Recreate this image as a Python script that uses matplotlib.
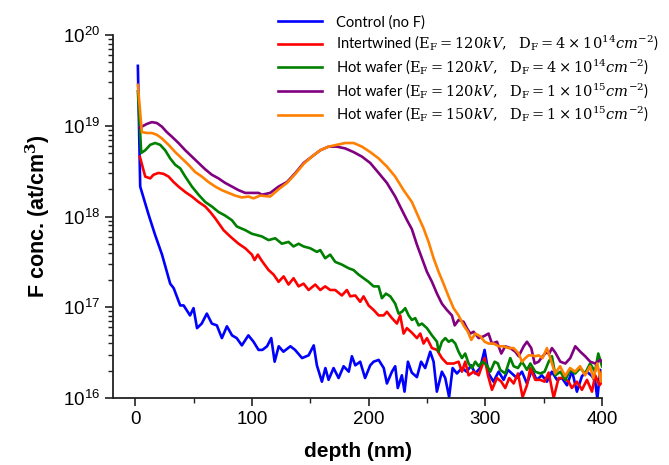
import numpy as np
import matplotlib
matplotlib.use("Agg")
import matplotlib.pyplot as plt
from matplotlib.ticker import LogLocator, MultipleLocator, NullFormatter

plt.rcParams['font.family'] = ['Liberation Sans', 'DejaVu Sans']
plt.rcParams['mathtext.fontset'] = 'dejavuserif'

# ---- data: depth (nm) and log10 of F concentration (at/cm^3) ----
control_x = [2.3, 4.3, 11.5, 17, 23, 30, 33, 38.6, 41.5, 47, 50, 53, 57, 61.4, 65.7, 70, 74.3, 78.6, 83, 87,
             91.4, 97, 101.4, 105.7, 109, 113, 116.6, 119.5, 123, 127, 133, 137, 143, 148.6, 153, 155.7, 160,
             163, 165.7, 170, 174.3, 178.6, 183, 185.7, 188.6, 192.8, 197, 201.4, 204.3, 208.6, 213, 215.7, 220,
             222.8, 225, 228.5, 230.8, 233.7, 237, 241.4, 245, 248.5, 252.8, 255.7, 258.5, 262.8, 265.7, 269,
             272, 275.7, 280, 284, 288, 291.3, 295.6, 299.4, 302.8, 307, 311.4, 315.7, 319.4, 322.8, 327, 331.4,
             335.7, 340, 344, 348.5, 352.8, 357, 361.4, 365.7, 370, 374.3, 378.5, 382.8, 387, 391.5, 394.2, 396,
             398.5, 400]
control_log = [19.66, 18.33, 18.02, 17.80, 17.58, 17.26, 17.21, 17.02, 17.02, 16.91, 16.99, 16.77, 16.82, 16.93,
               16.82, 16.80, 16.66, 16.79, 16.69, 16.66, 16.58, 16.69, 16.62, 16.53, 16.53, 16.57, 16.66, 16.40,
               16.57, 16.51, 16.57, 16.53, 16.44, 16.47, 16.58, 16.36, 16.18, 16.33, 16.20, 16.33, 16.22, 16.35,
               16.29, 16.46, 16.36, 16.40, 16.22, 16.36, 16.40, 16.42, 16.33, 16.16, 16.29, 16.35, 16.11, 16.25,
               16.07, 16.40, 16.28, 16.23, 16.40, 16.33, 16.51, 16.40, 16.07, 16.29, 16.22, 16.01, 16.33, 16.27,
               16.33, 16.29, 16.36, 16.27, 16.33, 16.53, 16.27, 16.18, 16.29, 16.20, 16.31, 16.27, 16.22, 16.29,
               16.16, 16.31, 16.20, 16.25, 16.18, 16.29, 16.20, 16.22, 16.14, 16.30, 16.07, 16.24, 16.29, 16.24,
               16.18, 15.99, 16.31, 16.18]

intertwined_x = [4, 8.6, 12.9, 15.7, 20, 24.3, 28.6, 32.9, 37.1, 42.9, 48.6, 54.3, 60, 64.3, 68.6, 75.7, 81.4,
                 88.6, 94.3, 100, 102.3, 105.1, 108.6, 114.3, 118.6, 122.9, 127.2, 131.4, 135.7, 140, 144.3, 148.6,
                 154.3, 158.6, 162.8, 167.1, 171.4, 177.1, 181.4, 184.3, 188.6, 192.8, 195.7, 200, 204.3, 208.6,
                 212.9, 215.7, 220, 224.3, 227.1, 230, 232.8, 237.1, 241.4, 244.3, 247.1, 250, 254.3, 258.6, 262.8,
                 267.1, 272.8, 277.1, 280, 282.8, 285.7, 290, 294.3, 297.1, 299.4, 302.3, 305.7, 310, 313.7, 317.1,
                 320.5, 324.3, 328, 332, 335.7, 338.6, 342.8, 347.1, 350.8, 354.3, 358.6, 362.8, 367.1, 371.4,
                 374.2, 378.5, 382.8, 387.1, 391.4, 394.2, 397.9, 400]
intertwined_log = [18.66, 18.44, 18.42, 18.46, 18.48, 18.47, 18.44, 18.38, 18.33, 18.27, 18.22, 18.16, 18.11,
                   18.05, 17.98, 17.85, 17.78, 17.70, 17.65, 17.58, 17.52, 17.58, 17.51, 17.41, 17.36, 17.28, 17.34,
                   17.25, 17.32, 17.23, 17.26, 17.19, 17.25, 17.19, 17.23, 17.19, 17.19, 17.13, 17.19, 17.12, 17.13,
                   17.06, 17.12, 17.02, 16.97, 16.91, 16.91, 16.95, 16.88, 16.82, 16.91, 16.71, 16.77, 16.72, 16.66,
                   16.71, 16.60, 16.66, 16.55, 16.53, 16.44, 16.38, 16.38, 16.40, 16.29, 16.40, 16.25, 16.29, 16.25,
                   16.35, 16.44, 16.25, 16.09, 16.22, 16.18, 16.11, 16.22, 16.16, 16.27, 16.01, 16.14, 16.33, 16.20,
                   16.20, 16.18, 16.28, 16.00, 16.22, 16.22, 16.18, 16.11, 16.18, 16.09, 16.20, 16.07, 16.25, 16.14,
                   16.18]

hot120_4e14_x = [2.3, 5.2, 8.6, 12.9, 17.1, 21.4, 25.7, 30, 34.3, 38.6, 42.9, 48.6, 54.3, 60, 65.7, 71.4, 77.1,
                 82.8, 87.1, 94.3, 100, 108.6, 114.3, 120, 125.7, 131.4, 135.7, 140, 144.3, 150, 155.7, 158.6,
                 162.8, 167.1, 171.4, 177.1, 182.9, 187.1, 191.4, 195.7, 200, 204.3, 208.6, 211.4, 214.9, 218.6,
                 222.8, 225.7, 228.6, 231.4, 234.3, 237.1, 240, 242.9, 245.7, 250, 254.3, 258.6, 260, 262.8, 265.7,
                 268.6, 271.4, 274.3, 277.1, 280, 282.8, 285.7, 288.6, 291.4, 294.3, 297.7, 301.4, 304.3, 308,
                 310.8, 312.8, 317.1, 321.4, 324.3, 328, 331.4, 335.7, 338.6, 342.8, 347.1, 350.8, 354.3, 357.1,
                 360, 364.3, 368.6, 372.8, 377, 381.4, 385.5, 389.8, 394, 396.8, 400]
hot120_4e14_log = [19.38, 18.70, 18.73, 18.79, 18.81, 18.79, 18.73, 18.64, 18.57, 18.53, 18.44, 18.33, 18.24,
                   18.16, 18.11, 18.05, 18.01, 17.96, 17.89, 17.85, 17.81, 17.78, 17.74, 17.76, 17.70, 17.72, 17.67,
                   17.70, 17.67, 17.65, 17.61, 17.63, 17.54, 17.58, 17.50, 17.47, 17.43, 17.41, 17.36, 17.32, 17.28,
                   17.23, 17.23, 17.10, 17.15, 17.12, 17.04, 16.93, 16.95, 16.99, 16.91, 16.86, 16.88, 16.80, 16.82,
                   16.77, 16.69, 16.62, 16.51, 16.62, 16.66, 16.62, 16.64, 16.60, 16.51, 16.44, 16.49, 16.38, 16.33,
                   16.40, 16.35, 16.40, 16.36, 16.29, 16.40, 16.38, 16.31, 16.27, 16.44, 16.35, 16.33, 16.40, 16.31,
                   16.38, 16.29, 16.27, 16.29, 16.40, 16.46, 16.25, 16.29, 16.20, 16.31, 16.27, 16.33, 16.27, 16.38,
                   16.29, 16.49, 16.35]

hot120_1e15_x = [4, 5.7, 10, 14.3, 18.6, 22.9, 27.1, 31.4, 37.1, 42.9, 48.6, 54.3, 60, 65.7, 71.4, 77.1, 82.9,
                 88.6, 94.3, 100, 105.7, 108.6, 115.7, 122.9, 130.1, 137.3, 144.4, 151.4, 158.6, 165.7, 172.8, 180,
                 187.1, 194.3, 201.4, 208.6, 215.7, 222.8, 228.6, 232.9, 237.1, 241.4, 245.7, 250, 254.3, 258.6,
                 262.8, 267.1, 271.4, 273.8, 277.1, 281.4, 284.2, 287.1, 290, 294.3, 298.6, 302.8, 305.7, 310,
                 313.7, 317.1, 321.4, 325.7, 328.6, 332.9, 335.7, 339.4, 342.3, 345.7, 348.5, 352, 354.8, 357.1, 360,
                 364.3, 368.6, 372.8, 377.1, 381.4, 385.6, 389.9, 394.2, 398.5, 400]
hot120_1e15_log = [18.98, 18.99, 19.02, 19.04, 19.03, 18.99, 18.93, 18.88, 18.81, 18.73, 18.66, 18.59, 18.52,
                   18.46, 18.42, 18.37, 18.33, 18.29, 18.26, 18.26, 18.26, 18.24, 18.26, 18.33, 18.38, 18.48, 18.59,
                   18.66, 18.73, 18.77, 18.77, 18.75, 18.71, 18.66, 18.59, 18.48, 18.37, 18.22, 18.07, 17.96, 17.86,
                   17.69, 17.54, 17.39, 17.28, 17.15, 17.04, 16.97, 16.91, 16.80, 16.86, 16.84, 16.77, 16.71, 16.73,
                   16.66, 16.68, 16.71, 16.60, 16.62, 16.49, 16.57, 16.55, 16.51, 16.46, 16.57, 16.62, 16.55, 16.38,
                   16.40, 16.45, 16.50, 16.49, 16.55, 16.50, 16.40, 16.38, 16.44, 16.57, 16.51, 16.46, 16.40, 16.38,
                   16.42, 16.40]

hot150_1e15_x = [2.3, 5.7, 10, 14.3, 18.6, 22.9, 28.6, 34.3, 40, 45.7, 51.4, 57.1, 62.8, 68.6, 74.3, 80, 85.7,
                 91.4, 97.1, 101.4, 107.1, 115.7, 122.9, 130.1, 137.3, 144.4, 151.4, 158.6, 165.7, 172.8, 180,
                 187.1, 194.3, 201.4, 208.6, 215.7, 222.8, 230, 237.1, 242.9, 247.1, 251.4, 255.7, 260, 264.2,
                 268.5, 272.8, 277.1, 281.4, 285.1, 288, 291.4, 295.7, 299.4, 302.8, 307.1, 311.4, 315.7, 320, 324.3,
                 328.6, 331.4, 334.3, 337.1, 340, 342.8, 345.7, 349.1, 352.8, 355.7, 359.8, 364.1, 368.4, 372.6,
                 376.9, 381.2, 385.5, 389.8, 392.5, 396, 399, 400]
hot150_1e15_log = [19.45, 18.93, 18.92, 18.92, 18.90, 18.86, 18.79, 18.71, 18.64, 18.57, 18.49, 18.44, 18.38,
                   18.33, 18.29, 18.26, 18.23, 18.21, 18.22, 18.20, 18.23, 18.22, 18.30, 18.37, 18.47, 18.58, 18.66,
                   18.73, 18.77, 18.79, 18.81, 18.81, 18.77, 18.71, 18.64, 18.55, 18.44, 18.29, 18.16, 17.99, 17.87,
                   17.72, 17.54, 17.39, 17.26, 17.12, 16.99, 16.91, 16.80, 16.73, 16.64, 16.71, 16.68, 16.62, 16.60,
                   16.60, 16.57, 16.57, 16.55, 16.55, 16.49, 16.40, 16.44, 16.47, 16.47, 16.46, 16.47, 16.44, 16.55,
                   16.44, 16.27, 16.35, 16.24, 16.33, 16.29, 16.35, 16.25, 16.35, 16.22, 16.38, 16.18, 16.29]

labels = [
    'Control (no F)',
    r'Intertwined ($\mathrm{E_F} = 120kV,\ \ \mathrm{D_F} = 4\times10^{14}cm^{-2}$)',
    r'Hot wafer ($\mathrm{E_F} = 120kV,\ \ \mathrm{D_F} = 4\times10^{14}cm^{-2}$)',
    r'Hot wafer ($\mathrm{E_F} = 120kV,\ \ \mathrm{D_F} = 1\times10^{15}cm^{-2}$)',
    r'Hot wafer ($\mathrm{E_F} = 150kV,\ \ \mathrm{D_F} = 1\times10^{15}cm^{-2}$)',
]
colors = ['#0000FF', '#FF0000', '#008000', '#800080', '#FF8000']
series = [(control_x, control_log), (intertwined_x, intertwined_log), (hot120_4e14_x, hot120_4e14_log),
          (hot120_1e15_x, hot120_1e15_log), (hot150_1e15_x, hot150_1e15_log)]

fig = plt.figure(figsize=(6.69, 4.65), dpi=100)
ax = fig.add_axes([113/669, 1 - 398/465, (602 - 113)/669, (398 - 35)/465])

lines = []
for (xs, ls), c, lab in zip(series, colors, labels):
    ln, = ax.plot(xs, 10 ** np.array(ls), color=c, lw=1.9, label=lab)
    lines.append(ln)

ax.set_yscale('log')
ax.set_ylim(1e16, 1e20)
ax.set_xlim(-19, 400)
ax.xaxis.set_major_locator(MultipleLocator(100))
ax.xaxis.set_minor_locator(MultipleLocator(50))
ax.yaxis.set_major_locator(LogLocator(base=10, numticks=10))
ax.yaxis.set_minor_locator(LogLocator(base=10, subs=np.arange(2, 10), numticks=20))
ax.yaxis.set_minor_formatter(NullFormatter())

for s in ['top', 'right']:
    ax.spines[s].set_visible(False)
for s in ['left', 'bottom']:
    ax.spines[s].set_linewidth(1.3)
    ax.spines[s].set_color('#222222')

ax.tick_params(which='major', direction='out', length=6, width=1.2, labelsize=13.5, colors='#222222',
               labelcolor='black')
ax.tick_params(which='minor', direction='out', length=3.5, width=1.0, colors='#222222')

ax.set_xlabel('depth (nm)', fontsize=15, fontweight='bold', labelpad=10)
ax.set_ylabel(r'F conc. (at/cm$^\mathbf{3}$)', fontsize=15.5, fontweight='bold', labelpad=8)

leg = fig.legend(handles=lines, loc='upper left', bbox_to_anchor=(278/669, 1 - 15/465),
                 frameon=False, prop={'family': ['Lato', 'DejaVu Sans'], 'size': 10.5},
                 handlelength=3.0, handletextpad=1.0, labelspacing=0.32, borderpad=0, borderaxespad=0)

fig.savefig('out.png', dpi=100)
